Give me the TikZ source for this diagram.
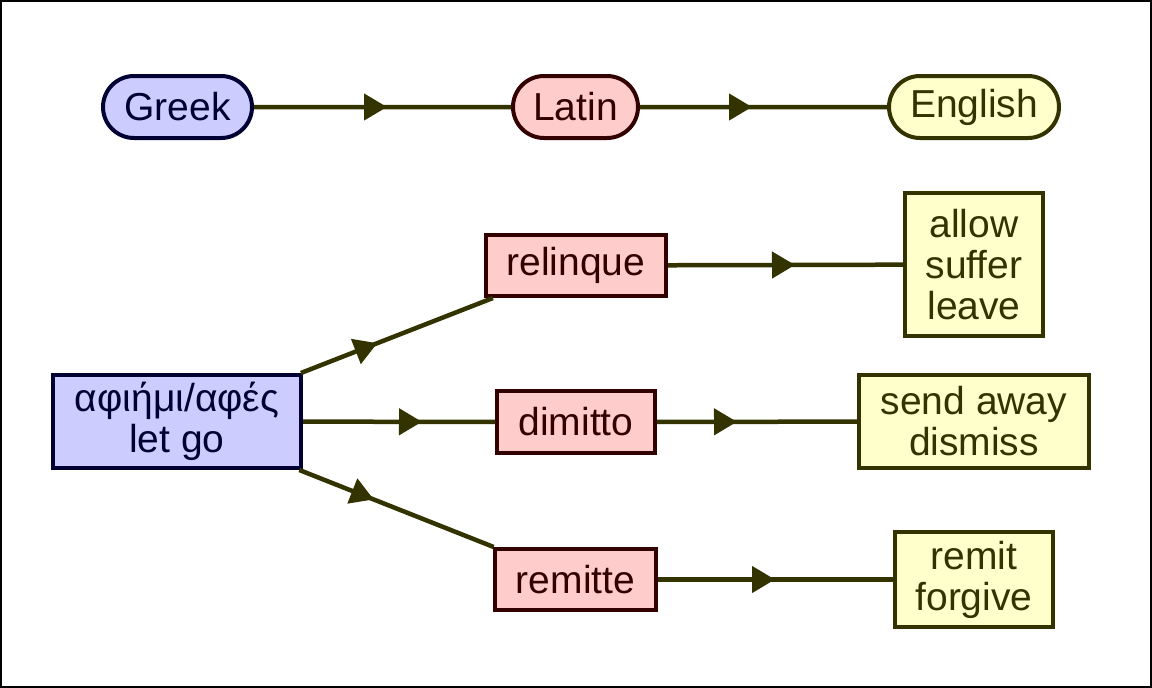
\documentclass[tikz,border=0pt]{standalone}
\usepackage{fontspec}
\setmainfont{Liberation Sans}
\usetikzlibrary{arrows.meta,decorations.markings,shapes.misc}
\definecolor{gkf}{HTML}{CCCCFF}
\definecolor{gkd}{HTML}{000033}
\definecolor{laf}{HTML}{FFCCCC}
\definecolor{lad}{HTML}{330000}
\definecolor{enf}{HTML}{FFFFCC}
\definecolor{enk}{HTML}{333300}
\tikzset{
  box/.style={draw, line width=4pt, inner sep=0pt, align=center,
    font=\fontsize{39}{41}\selectfont},
  gkbox/.style={box, draw=gkd, fill=gkf, text=gkd},
  labox/.style={box, draw=lad, fill=laf, text=lad},
  enbox/.style={box, draw=enk, fill=enf, text=enk},
  pill/.style={rounded rectangle, minimum height=62pt},
  conn/.style={draw=enk, line width=4.5pt, postaction={decorate},
    decoration={markings, mark=at position #1 with {\arrow[enk]{Triangle[length=23pt,width=26pt]}}}}
}
\begin{document}
\begin{tikzpicture}[x=1pt,y=-1pt]
\useasboundingbox (0,0) rectangle (1152,688);
\draw[line width=2pt] (1,1) rectangle (1151,687);
% top legend
\node[gkbox,pill,minimum width=149pt] (gr) at (177.5,107) {Greek};
\node[labox,pill,minimum width=125pt] (la) at (575.5,107) {Latin};
\node[enbox,pill,minimum width=170pt] (en) at (974,107) {English};
% boxes
\node[gkbox,minimum width=248pt,minimum height=93pt] (af) at (177,421.5) {αφιήμι/αφές\\let go};
\node[labox,minimum width=180pt,minimum height=61pt] (rel) at (576,265.5) {relinque};
\node[labox,minimum width=158pt,minimum height=62pt] (dim) at (576,422) {dimitto};
\node[labox,minimum width=161pt,minimum height=61pt] (rem) at (575.5,579.5) {remitte};
\node[enbox,minimum width=138pt,minimum height=143pt] (allow) at (974,264.5) {allow\\suffer\\leave};
\node[enbox,minimum width=230pt,minimum height=93pt] (send) at (974,421.5) {send away\\dismiss};
\node[enbox,minimum width=158pt,minimum height=95pt] (remit) at (974,579.5) {remit\\forgive};
% connectors
\draw[conn=133pt] (gr) -- (la);
\draw[conn=112pt] (la) -- (en);
\draw[conn=82pt] (af) -- (rel);
\draw[conn=119pt] (af) -- (dim);
\draw[conn=80pt] (af) -- (rem);
\draw[conn=127pt] (rel) -- (allow);
\draw[conn=80pt] (dim) -- (send);
\draw[conn=117pt] (rem) -- (remit);
\end{tikzpicture}
\end{document}
